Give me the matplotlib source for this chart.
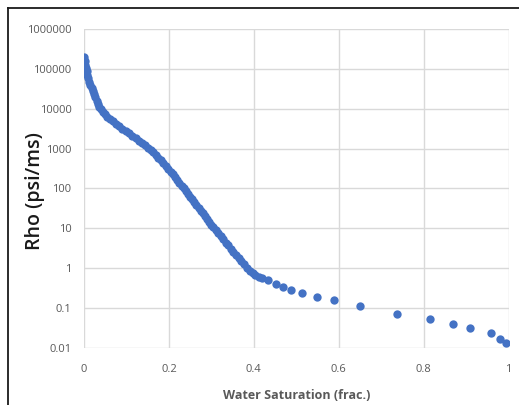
import matplotlib
matplotlib.use("Agg")
import matplotlib.pyplot as plt
from matplotlib.lines import Line2D
from matplotlib.ticker import FixedLocator, FixedFormatter

# water saturation (frac.)
sw = [0.001, 0.002, 0.003, 0.004, 0.006, 0.008, 0.010, 0.012, 0.015, 0.018,
      0.021, 0.024, 0.027, 0.030, 0.033, 0.036, 0.040, 0.044, 0.049, 0.055,
      0.061, 0.068, 0.075, 0.082, 0.090, 0.098, 0.106, 0.114, 0.122, 0.130,
      0.137, 0.144, 0.151, 0.157, 0.163, 0.169, 0.175, 0.181, 0.187, 0.193,
      0.199, 0.205, 0.210, 0.215, 0.220, 0.225, 0.230, 0.235, 0.240, 0.245,
      0.250, 0.255, 0.260, 0.265, 0.270, 0.275, 0.280, 0.285, 0.290, 0.295,
      0.300, 0.305, 0.310, 0.316, 0.322, 0.328, 0.334, 0.340, 0.346, 0.352,
      0.358, 0.364, 0.370, 0.376, 0.383, 0.390, 0.397, 0.404, 0.412, 0.420,
      0.434, 0.452, 0.469, 0.488, 0.513, 0.549, 0.589, 0.650, 0.737, 0.814,
      0.869, 0.910, 0.959, 0.981, 0.994]

# rho (psi/ms)
rho = [200000, 158500, 125900, 104700, 87100, 69200, 57500, 47900, 39800, 33100,
       27500, 22900, 19100, 15800, 13200, 11200, 9550, 8300, 7240, 6310,
       5500, 4790, 4170, 3630, 3160, 2750, 2400, 2090, 1820, 1580,
       1380, 1200, 1050, 912, 794, 692, 589, 501, 427, 363,
       309, 263, 224, 191, 162, 138, 117, 100, 85.1, 72.4,
       61.7, 52.5, 44.7, 38.0, 32.4, 27.5, 23.4, 20.0, 17.0, 14.5,
       12.3, 10.5, 9.12, 7.59, 6.31, 5.25, 4.37, 3.72, 3.09, 2.57,
       2.14, 1.78, 1.48, 1.23, 1.02, 0.851, 0.741, 0.661, 0.603, 0.550,
       0.490, 0.389, 0.339, 0.288, 0.234, 0.191, 0.155, 0.112, 0.0708, 0.0525,
       0.0389, 0.0316, 0.0229, 0.0166, 0.0132]

x_ticks = [0, 0.2, 0.4, 0.6, 0.8, 1]
x_labels = ["0", "0.2", "0.4", "0.6", "0.8", "1"]
y_ticks = [0.01, 0.1, 1, 10, 100, 1000, 10000, 100000, 1000000]
y_labels = ["0.01", "0.1", "1", "10", "100", "1000", "10000", "100000", "1000000"]

plt.rcParams['font.family'] = ['Open Sans', 'DejaVu Sans']

fig = plt.figure(figsize=(5.19, 4.05), dpi=100)
ax = fig.add_axes([0.1618, 0.1415, 0.8180, 0.7869])

ax.scatter(sw, rho, s=36, color='#4472C4', linewidths=0, zorder=3)

ax.set_yscale('log')
ax.set_xlim(0, 1)
ax.set_ylim(0.01, 1000000)
ax.xaxis.set_major_locator(FixedLocator(x_ticks))
ax.xaxis.set_major_formatter(FixedFormatter(x_labels))
ax.yaxis.set_major_locator(FixedLocator(y_ticks))
ax.yaxis.set_major_formatter(FixedFormatter(y_labels))
ax.yaxis.set_minor_locator(FixedLocator([]))

ax.grid(True, color='#d9d9d9', linewidth=1.0)
ax.set_axisbelow(True)
for s in ax.spines.values():
    s.set_visible(False)
ax.tick_params(length=0, labelsize=8, labelcolor='#595959')
ax.tick_params(axis='x', pad=12)
ax.tick_params(axis='y', pad=9)

ax.set_xlabel('Water Saturation (frac.)', fontsize=9, fontweight='bold',
              color='#595959', labelpad=10)
ax.set_ylabel('Rho (psi/ms)', fontsize=14, fontweight='semibold',
              color='#1a1a1a', va='center')
ax.yaxis.set_label_coords(-(84 - 35) / 424.5, (348 - 191.5) / 319)

# screenshot frame at top and left
fig.add_artist(Line2D([8 / 519, 1], [1 - 8 / 405, 1 - 8 / 405],
                      color='#1a1a1a', linewidth=1.3))
fig.add_artist(Line2D([8 / 519, 8 / 519], [0, 1 - 8 / 405],
                      color='#1a1a1a', linewidth=1.3))

fig.savefig('out.png', dpi=100)
